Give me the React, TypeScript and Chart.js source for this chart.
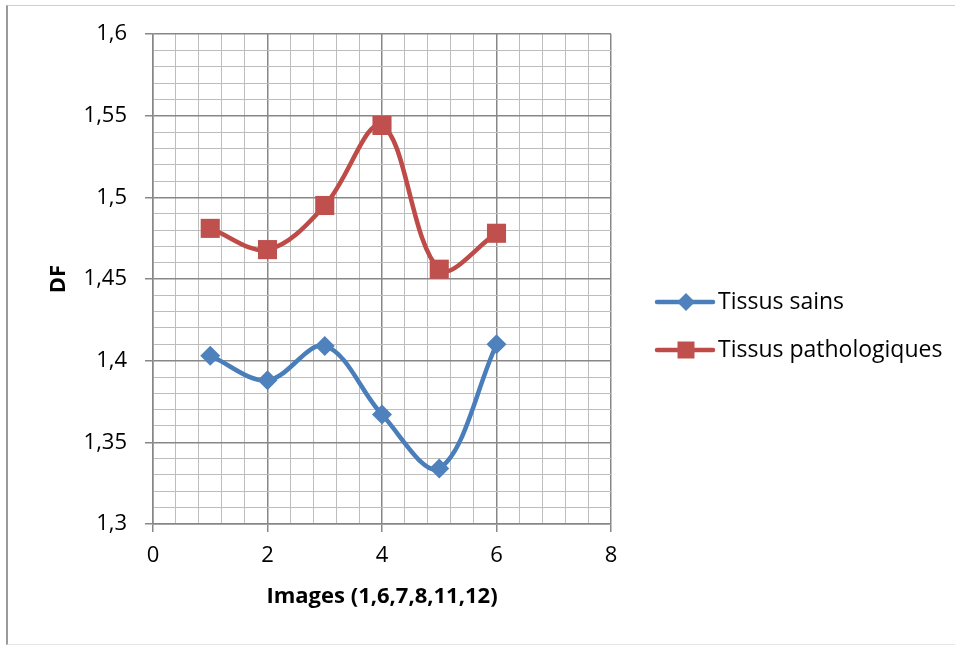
import React, { useEffect, useRef } from "react";
import { Chart, registerables } from "chart.js";

Chart.register(...registerables);

// ---- data ----
const images = [1, 2, 3, 4, 5, 6];
const tissusSains = [1.403, 1.388, 1.409, 1.367, 1.334, 1.41];
const tissusPatho = [1.481, 1.468, 1.495, 1.544, 1.456, 1.478];
const seriesNames = ["Tissus sains", "Tissus pathologiques"];
const xTitle = "Images (1,6,7,8,11,12)";
const yTitle = "DF";
const xRange = [0, 8];
const xSteps = [2, 0.4]; // major, minor
const yRange = [1.3, 1.6];
const ySteps = [0.05, 0.01]; // major, minor

// ---- styles ----
const FONT = "'Open Sans', 'DejaVu Sans', sans-serif";
const BLUE_LINE = "#4A7EBB";
const BLUE_FILL = "#4F81BD";
const RED_LINE = "#BE4B48";
const RED_FILL = "#C0504D";
const MAJOR = "#878787";
const MINOR = "#bdbdbd";

const isMajor = (v: number, step: number) =>
  Math.abs(v / step - Math.round(v / step)) < 1e-6;
const fmt = (v: number) => String(Number(v.toFixed(2))).replace(".", ",");

const gridFor = (major: number) => ({
  color: (c: any) => (c.tick && isMajor(c.tick.value, major) ? MAJOR : MINOR),
  lineWidth: (c: any) => (c.tick && isMajor(c.tick.value, major) ? 1.5 : 1),
  tickColor: (c: any) =>
    c.tick && isMajor(c.tick.value, major) ? MAJOR : "rgba(0,0,0,0)",
  tickWidth: 1.5,
  tickLength: 8,
  drawTicks: true,
});

const legendPlugin = {
  id: "excelLegend",
  afterDraw(chart: any) {
    const ctx = chart.ctx as CanvasRenderingContext2D;
    const rows = [
      { y: 302, line: BLUE_LINE, fill: BLUE_FILL, shape: "diamond", name: seriesNames[0] },
      { y: 350, line: RED_LINE, fill: RED_FILL, shape: "square", name: seriesNames[1] },
    ];
    const x0 = 657, x1 = 713, xm = 686;
    ctx.save();
    for (const r of rows) {
      ctx.strokeStyle = r.line;
      ctx.lineWidth = 4.5;
      ctx.lineCap = "round";
      ctx.beginPath();
      ctx.moveTo(x0, r.y);
      ctx.lineTo(x1, r.y);
      ctx.stroke();
      ctx.fillStyle = r.fill;
      ctx.beginPath();
      if (r.shape === "diamond") {
        const s = 9;
        ctx.moveTo(xm, r.y - s);
        ctx.lineTo(xm + s, r.y);
        ctx.lineTo(xm, r.y + s);
        ctx.lineTo(xm - s, r.y);
        ctx.closePath();
      } else {
        const s = 8.5;
        ctx.rect(xm - s, r.y - s, 2 * s, 2 * s);
      }
      ctx.fill();
      ctx.fillStyle = "#000";
      ctx.font = `23px ${FONT}`;
      ctx.textAlign = "left";
      ctx.textBaseline = "alphabetic";
      ctx.fillText(r.name, 718, r.y + 7);
    }
    ctx.restore();
  },
};

export default function App() {
  const ref = useRef<HTMLCanvasElement | null>(null);

  useEffect(() => {
    if (!ref.current) return;
    const chart = new Chart(ref.current, {
      type: "line",
      data: {
        datasets: [
          {
            label: seriesNames[0],
            data: images.map((x, i) => ({ x, y: tissusSains[i] })),
            borderColor: BLUE_LINE,
            backgroundColor: BLUE_FILL,
            borderWidth: 4.5,
            tension: 0.35,
            pointStyle: "rectRot",
            pointRadius: 10,
            pointBorderWidth: 0,
            pointBackgroundColor: BLUE_FILL,
            fill: false,
          },
          {
            label: seriesNames[1],
            data: images.map((x, i) => ({ x, y: tissusPatho[i] })),
            borderColor: RED_LINE,
            backgroundColor: RED_FILL,
            borderWidth: 4.5,
            tension: 0.35,
            pointStyle: "rect",
            pointRadius: 13.5,
            pointBorderWidth: 0,
            pointBackgroundColor: RED_FILL,
            fill: false,
          },
        ],
      },
      options: {
        responsive: false,
        animation: false,
        devicePixelRatio: 1,
        layout: { padding: { left: 8, right: 344, top: 34, bottom: 0 } },
        plugins: {
          legend: { display: false },
          tooltip: { enabled: false },
        },
        scales: {
          x: {
            type: "linear",
            min: xRange[0],
            max: xRange[1],
            ticks: {
              stepSize: xSteps[1],
              autoSkip: false,
              maxRotation: 0,
              padding: 11,
              color: "#000",
              font: { family: FONT, size: 22 },
              callback: (v: any) => (isMajor(Number(v), xSteps[0]) ? fmt(Number(v)) : ""),
            },
            grid: gridFor(xSteps[0]),
            border: { color: MAJOR, width: 1.5 },
            title: {
              display: true,
              text: xTitle,
              color: "#000",
              font: { family: FONT, size: 22, weight: "bold" },
              padding: { top: 0, bottom: 36 },
            },
            afterFit: (s: any) => {
              s.height = 122;
            },
          },
          y: {
            type: "linear",
            min: yRange[0],
            max: yRange[1],
            ticks: {
              stepSize: ySteps[1],
              autoSkip: false,
              padding: 18,
              color: "#000",
              font: { family: FONT, size: 22 },
              callback: (v: any) => (isMajor(Number(v), ySteps[0]) ? fmt(Number(v)) : ""),
            },
            grid: gridFor(ySteps[0]),
            border: { color: MAJOR, width: 1.5 },
            title: {
              display: true,
              text: yTitle,
              color: "#000",
              font: { family: FONT, size: 22, weight: "bold" },
              padding: { top: 38, bottom: 0 },
            },
            afterFit: (s: any) => {
              s.width = 145;
            },
          },
        },
      } as any,
      plugins: [legendPlugin],
    });
    return () => chart.destroy();
  }, []);

  return (
    <>
      <div
        style={{
          position: "absolute",
          left: 6,
          top: 5,
          width: 949,
          height: 640,
          boxSizing: "border-box",
          borderLeft: "2px solid #9a9a9a",
          borderTop: "1px solid #cfcfcf",
          borderBottom: "1px solid #e6e6e6",
        }}
      />
      <canvas
        ref={ref}
        width={955}
        height={646}
        style={{ position: "absolute", left: 0, top: 0, width: 955, height: 646 }}
      />
    </>
  );
}
